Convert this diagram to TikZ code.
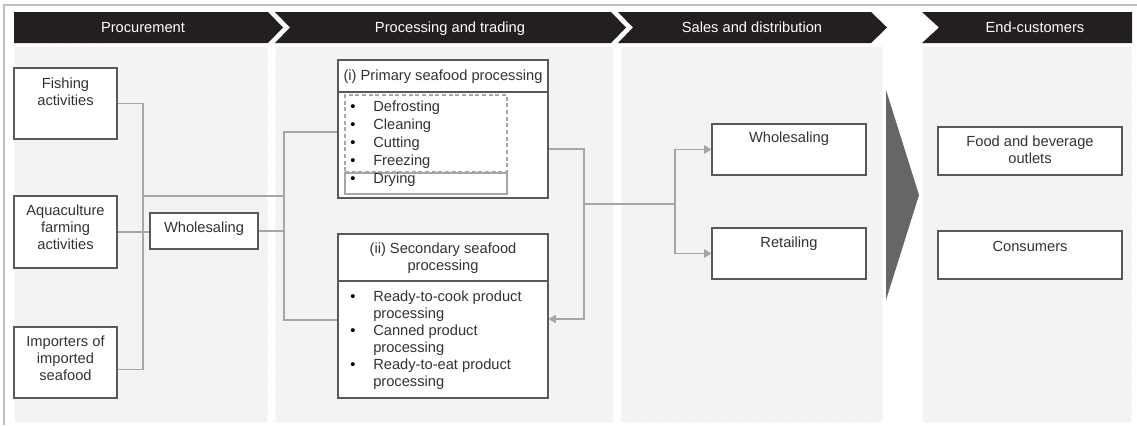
\documentclass[tikz,border=0pt]{standalone}
\usepackage{fontspec}
\setmainfont{Liberation Sans}
\usetikzlibrary{positioning}
\usetikzlibrary{fit}
\usetikzlibrary{arrows.meta}

\definecolor{barblack}{HTML}{231F20}
\definecolor{panelgray}{HTML}{F2F3F5}
\definecolor{framegray}{HTML}{BFBFBF}
\definecolor{boxline}{HTML}{595959}
\definecolor{linkgray}{HTML}{A6A6A6}
\definecolor{txtgray}{HTML}{333333}
\definecolor{bigarrow}{HTML}{666666}

\newcommand{\dotmark}{\makebox[17.25pt][l]{\color{black}\textbullet}}

\tikzset{
  box/.style={draw=boxline, line width=0.9pt, fill=white, inner sep=0pt},
  subbox/.style={draw=linkgray, line width=0.9pt, inner sep=0pt},
  txt/.style={text=txtgray, align=center, inner sep=0pt, font=\fontsize{11}{12.75}\selectfont},
  headtxt/.style={text=white, inner sep=0pt, anchor=base, font=\fontsize{11}{13}\selectfont},
  conn/.style={draw=linkgray, line width=0.8pt},
  linkarrow/.style={-{Triangle[length=5.5pt,width=6.5pt]}},
  panel/.style={fill=panelgray, draw=white, line width=1.2pt, dash pattern=on 2pt off 2pt, rounded corners=2pt},
}

\begin{document}
\begin{tikzpicture}[x=0.75pt,y=-0.75pt]
\useasboundingbox (0,0) rectangle (1137,425);
\fill[white] (0,0) rectangle (1137,425);
\draw[framegray, line width=0.8pt] (4,425) -- (4,5) -- (1137,5);

% columns
\filldraw[panel] (14,46) rectangle (268,423);
\filldraw[panel] (275,46) rectangle (614,423);
\filldraw[panel] (621,46) rectangle (883,423);
\filldraw[panel] (922,46) rectangle (1132,423);

% header bars
\fill[barblack] (14,12) -- (268,12) -- (283,27.5) -- (268,43) -- (14,43) -- cycle;
\fill[barblack] (275,12) -- (611,12) -- (626,27.5) -- (611,43) -- (275,43) -- (290,27.5) -- cycle;
\fill[barblack] (618,12) -- (871,12) -- (887,27.5) -- (871,43) -- (618,43) -- (633,27.5) -- cycle;
\fill[barblack] (922,12) -- (1132,12) -- (1132,43) -- (922,43) -- (939,27.5) -- cycle;
\node[headtxt] (hProc) at (143,32) {Procurement};
\node[headtxt] (hTrade) at (450,32) {Processing and trading};
\node[headtxt] (hSales) at (752,32) {Sales and distribution};
\node[headtxt] (hEnd) at (1035,32) {End-customers};

\fill[bigarrow] (886,90) -- (919,195) -- (886,300) -- cycle;

% procurement
\node[box, fit={(14,68) (117,139)}] (fish) {};
\node[txt] (fishT) at (65.5,91.5) {Fishing\\activities};
\node[box, fit={(14,196) (117,268)}] (aqua) {};
\node[txt] (aquaT) at (65.5,227) {Aquaculture\\farming\\activities};
\node[box, fit={(14,327) (117,398)}] (imp) {};
\node[txt] (impT) at (65.5,358.5) {Importers of\\imported\\seafood};
\node[box, fit={(150,213) (258,249)}] (whs1) {};
\node[txt] (whs1T) at (204,229) {Wholesaling};

% processing and trading
\node[box, fit={(338,60) (548,198)}] (prim) {};
\node[txt] (primT) at (443,76.5) {(i) Primary seafood processing};
\coordinate (primSep) at (338,92);
\draw[boxline, line width=0.9pt] (primSep) -- (primSep -| prim.east);
\node[subbox, dash pattern=on 3pt off 2pt, fit={(345,95) (507,172)}] (dashBox) {};
\node[subbox, line width=1.2pt, fit={(345,173) (507,194)}] (dryBox) {};
\foreach \lbl [count=\i] in {Defrosting,Cleaning,Cutting,Freezing,Drying}
  \node[txt, anchor=west] (pItem\i) at (350,90+18*\i) {\dotmark\lbl};

\node[box, fit={(338,234) (548,398)}] (sec) {};
\node[txt] (secT) at (443,258) {(ii) Secondary seafood\\processing};
\coordinate (secSep) at (338,281);
\draw[boxline, line width=0.9pt] (secSep) -- (secSep -| sec.east);
\foreach \lbl [count=\i] in {Ready-to-cook product,Canned product,Ready-to-eat product}
  \node[txt, anchor=west, align=left] (sItem\i) at (350,271.5+34.3*\i)
    {\dotmark\lbl\\\hspace*{17.25pt}processing};

% sales and distribution
\node[box, fit={(712,124) (866,175)}] (whs2) {};
\node[txt] (whs2T) at (789,139) {Wholesaling};
\node[box, fit={(712,228) (866,279)}] (ret) {};
\node[txt] (retT) at (789,244) {Retailing};

% end-customers
\node[box, fit={(938,127) (1122,175)}] (food) {};
\node[txt] (foodT) at (1030,150) {Food and beverage\\outlets};
\node[box, fit={(938,231) (1122,279)}] (cons) {};
\node[txt] (consT) at (1030,246) {Consumers};

% links
\coordinate (spineA) at (143,196);
\coordinate (spineB) at (284,196);
\coordinate (spineC) at (584,204);
\coordinate (spineD) at (675,204);
\draw[conn] (fish.east) -| ([yshift=-4.9pt]imp.east -| spineA) -- ([yshift=-4.9pt]imp.east);
\draw[conn] (aqua.east) -- (aqua.east -| whs1.west);
\draw[conn] (spineA) -- (spineB);
\draw[conn] (whs1.east) -- (whs1.east -| spineB);
\draw[conn] ([yshift=-2.25pt]prim.west) -| ([yshift=-3pt]sec.west -| spineB) -- ([yshift=-3pt]sec.west);
\draw[conn, linkarrow] ([yshift=-15pt]prim.east) -| ([yshift=-2.25pt]sec.east -| spineC) -- ([yshift=-2.25pt]sec.east);
\draw[conn] (spineC) -- (spineD);
\draw[conn, linkarrow] (spineD) |- (whs2.west);
\draw[conn, linkarrow] (spineD) |- (ret.west);
\end{tikzpicture}
\end{document}
